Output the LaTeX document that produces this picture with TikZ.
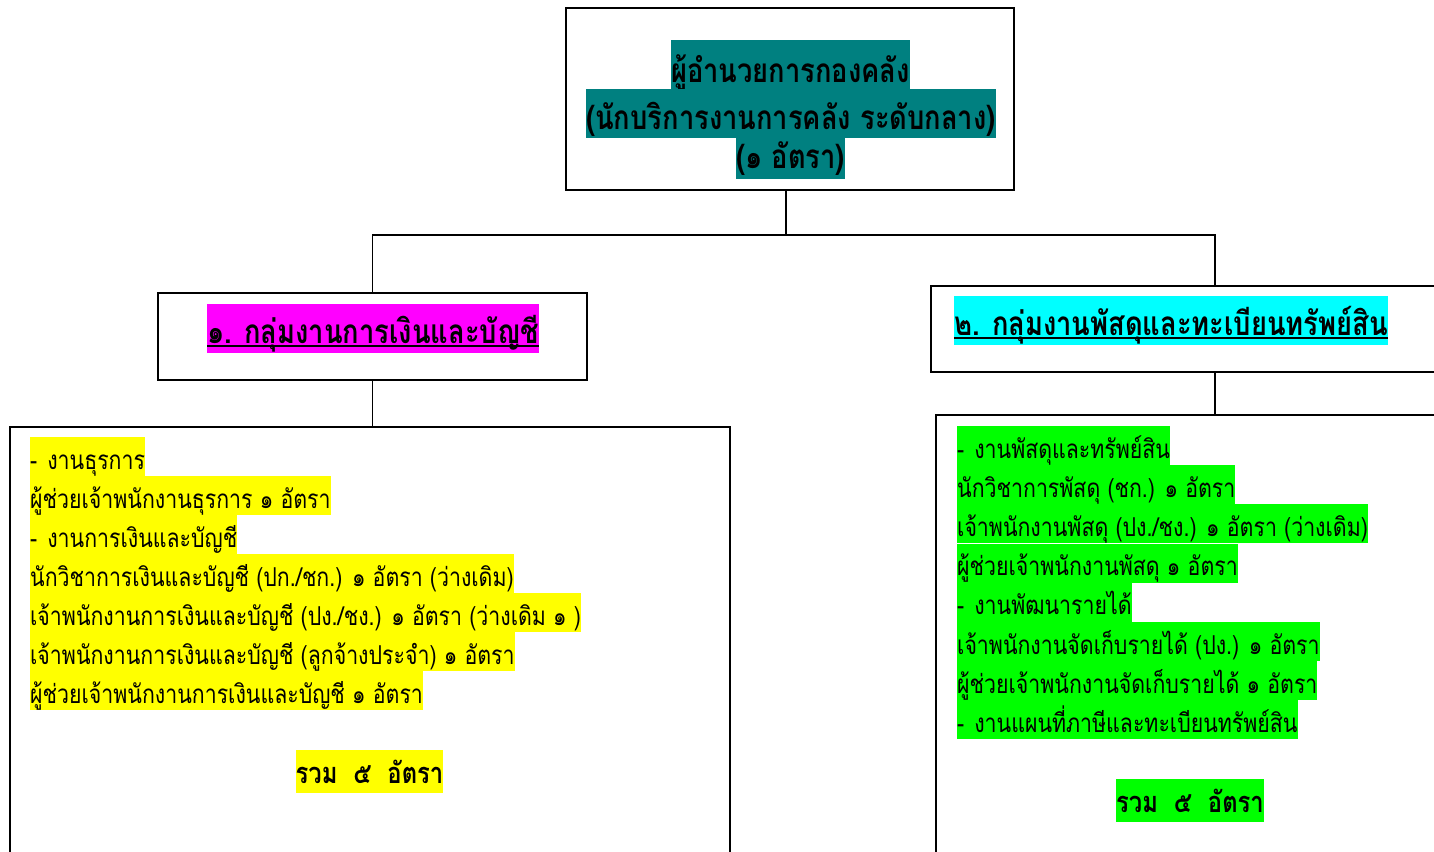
\documentclass[tikz,border=0pt]{standalone}
\usepackage{fontspec}
\newfontfamily\thai[Script=Thai,FakeStretch=0.82]{Loma}
\definecolor{tealc}{HTML}{008080}
\definecolor{magc}{HTML}{FF00FF}
\definecolor{cyanc}{HTML}{00FFFF}
\definecolor{yelc}{HTML}{FFFF00}
\definecolor{grnc}{HTML}{00FF00}
\tikzset{
  box/.style={draw, line width=2pt, inner sep=0pt},
  conn/.style={line width=1.6pt},
  hl/.style={inner xsep=0pt, inner ysep=0pt, anchor=base west,
    font=\thai\fontsize{26}{30}\selectfont, text height=32pt, text depth=7pt},
  topt/.style={inner xsep=0pt, inner ysep=0pt, anchor=base, fill=tealc,
    font=\thai\bfseries\fontsize{33.3}{36}\selectfont},
  head/.style={inner xsep=0pt, inner ysep=0pt, anchor=base,
    font=\thai\bfseries\fontsize{33.3}{36}\selectfont, text height=39pt, text depth=10pt},
  tot/.style={inner xsep=0pt, inner ysep=0pt, anchor=base,
    font=\thai\bfseries\fontsize{29}{32}\selectfont, text height=33pt, text depth=10pt},
}
\begin{document}
\begin{tikzpicture}[x=1pt,y=-1pt]
\clip (0,0) rectangle (1434,851);
\fill[white] (0,0) rectangle (1434,851);
% boxes
\node[box, minimum width=448pt, minimum height=182pt] (top) at (790,99) {};
\node[box, minimum width=429pt, minimum height=87pt] (g1) at (372.5,336.5) {};
\node[box, minimum width=600pt, minimum height=86pt] (g2) at (1231,329) {};
\node[box, minimum width=720pt, minimum height=480pt] (d1) at (370,667) {};
\node[box, minimum width=600pt, minimum height=480pt] (d2) at (1236,655) {};
% top texts
\node[topt, text height=42pt, text depth=7pt] (t1) at (790.5,82) {ผู้อำนวยการกองคลัง};
\node[topt, text height=40pt, text depth=9pt] (t2) at (791,129) {(นักบริการงานการคลัง ระดับกลาง)};
\node[topt, text height=30pt, text depth=11pt] (t3) at (790.5,168) {(๑ อัตรา)};
% headings
\node[head, fill=magc] (h1) at (373,343) {๑. กลุ่มงานการเงินและบัญชี};
\draw[line width=2pt] ([yshift=-3pt]h1.base west) -- ([yshift=-3pt]h1.base east);
\node[head, fill=cyanc] (h2) at (1171,335) {๒. กลุ่มงานพัสดุและทะเบียนทรัพย์สิน};
\draw[line width=2pt] ([yshift=-3pt]h2.base west) -- ([yshift=-3pt]h2.base east);
% connectors
\coordinate (bus) at (786,235);
\coordinate (g2in) at (1215,286);
\draw[conn] (top.south -| bus) -- (bus);
\draw[conn] (g1.north) -- (g1.north |- bus) -- (g2in |- bus) -- (g2in);
\draw[conn] (g1.south) -- (g1.south |- d1.north);
\draw[conn] (g2.south -| g2in) -- (d2.north -| g2in);
% left details
\node[hl, fill=yelc] (l1) at (30,469) {-\hspace{10pt}งานธุรการ};
\node[hl, fill=yelc] (l2) at (30,508) {ผู้ช่วยเจ้าพนักงานธุรการ ๑ อัตรา};
\node[hl, fill=yelc] (l3) at (30,547) {-\hspace{10pt}งานการเงินและบัญชี};
\node[hl, fill=yelc] (l4) at (30,586) {นักวิชาการเงินและบัญชี (ปก./ชก.) ๑ อัตรา (ว่างเดิม)};
\node[hl, fill=yelc] (l5) at (30,625) {เจ้าพนักงานการเงินและบัญชี (ปง./ชง.) ๑ อัตรา (ว่างเดิม ๑ )};
\node[hl, fill=yelc] (l6) at (30,664) {เจ้าพนักงานการเงินและบัญชี (ลูกจ้างประจำ) ๑ อัตรา};
\node[hl, fill=yelc] (l7) at (30,703) {ผู้ช่วยเจ้าพนักงานการเงินและบัญชี ๑ อัตรา};
\node[tot, fill=yelc] (s1) at (369.5,783) {รวม\hspace{16pt}๕\hspace{16pt}อัตรา};
% right details
\node[hl, fill=grnc] (r1) at (957,458) {-\hspace{10pt}งานพัสดุและทรัพย์สิน};
\node[hl, fill=grnc] (r2) at (957,497.2) {นักวิชาการพัสดุ (ชก.) ๑ อัตรา};
\node[hl, fill=grnc] (r3) at (957,536.4) {เจ้าพนักงานพัสดุ (ปง./ชง.) ๑ อัตรา (ว่างเดิม)};
\node[hl, fill=grnc] (r4) at (957,575.6) {ผู้ช่วยเจ้าพนักงานพัสดุ ๑ อัตรา};
\node[hl, fill=grnc] (r5) at (957,614.8) {-\hspace{10pt}งานพัฒนารายได้};
\node[hl, fill=grnc] (r6) at (957,654) {เจ้าพนักงานจัดเก็บรายได้ (ปง.) ๑ อัตรา};
\node[hl, fill=grnc] (r7) at (957,693.2) {ผู้ช่วยเจ้าพนักงานจัดเก็บรายได้ ๑ อัตรา};
\node[hl, fill=grnc] (r8) at (957,732.4) {-\hspace{10pt}งานแผนที่ภาษีและทะเบียนทรัพย์สิน};
\node[tot, fill=grnc] (s2) at (1190,812) {รวม\hspace{16pt}๕\hspace{16pt}อัตรา};
\end{tikzpicture}
\end{document}
